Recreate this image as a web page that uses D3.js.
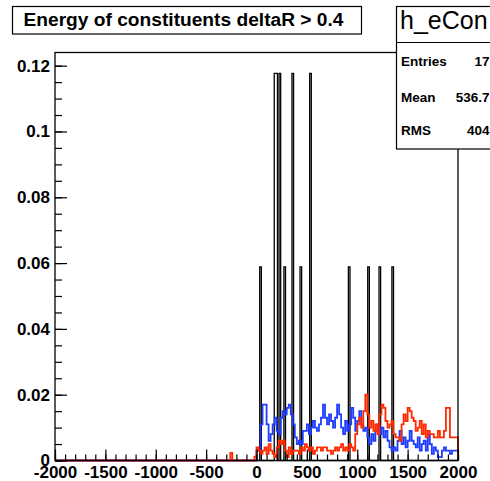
<!DOCTYPE html>
<html><head><meta charset="utf-8">
<script src="https://cdn.jsdelivr.net/npm/d3@7"></script>
<style>
body{margin:0;background:#fff;}
svg{display:block;font-family:"Liberation Sans",Arial,Helvetica,sans-serif;}
</style></head>
<body><svg id="c" width="490" height="481"></svg>
<script>
// ---- data ----
const titleText = "Energy of constituents deltaR > 0.4";
const statsName = "h_eCon";
const statsLabels = ["Entries", "Mean", "RMS"];
const statsValues = ["17", "536.7", "404"];
const xTickValues = [-2000, -1500, -1000, -500, 0, 500, 1000, 1500, 2000];
const xTickLabels = ["-2000", "-1500", "-1000", "-500", "0", "500", "1000", "1500", "2000"];
const yTickValues = [0, 0.02, 0.04, 0.06, 0.08, 0.1, 0.12];
const yTickLabels = ["0", "0.02", "0.04", "0.06", "0.08", "0.1", "0.12"];
// black histogram: filled bins (low edge) and counts, normalised by entries
const blackBinWidth = 16;
const blackBinLow = [32, 176, 192, 224, 272, 352, 432, 528, 912, 1104, 1216, 1344];
const blackCounts = [1, 2, 2, 2, 1, 2, 1, 2, 1, 1, 1, 1];
const blackEntries = 17;
// blue histogram: bins of width 20 starting at 0
const binWidth = 20;
const blueStart = 0;
const blueValues = [
 0.003,0.003,0.011,0.017,0.017,0.011,0.006,0.008,0.011,0.013,
 0.009,0.008,0.013,0.015,0.014,0.016,0.017,0.014,0.011,0.007,
 0.005,0.006,0.005,0.009,0.009,0.011,0.008,0.010,0.012,0.010,
 0.009,0.011,0.013,0.017,0.013,0.011,0.014,0.012,0.010,0.013,
 0.017,0.014,0.010,0.008,0.012,0.009,0.011,0.016,0.013,0.009,
 0.012,0.015,0.011,0.009,0.010,0.007,0.005,0.008,0.006,0.009,
 0.011,0.008,0.010,0.007,0.009,0.006,0.004,0.003,0.004,0.003,
 0.006,0.009,0.005,0.007,0.004,0.006,0.009,0.006,0.005,0.004,
 0.007,0.003,0.005,0.006,0.003,0.008,0.005,0.002,0.004,0.003,
 0.001,0.001,0.003,0.004,0.003,0.003,0.002,0.003,0.003,0.003];
// red histogram: bins of width 20 starting at -20
const redStart = -20;
const redValues = [0.0012,
 0.004,0.003,0.002,0.003,0.004,0.002,0.005,0.003,0.002,0.001,
 0.004,0.006,0.005,0.006,0.003,0.001,0.004,0.002,0.003,0.003,
 0.003,0.002,0.004,0.003,0.005,0.004,0.003,0.004,0.002,0.003,
 0.004,0.004,0.003,0.004,0.004,0.003,0.003,0.002,0.003,0.004,
 0.003,0.004,0.005,0.003,0.004,0.003,0.005,0.004,0.003,0.008,
 0.011,0.013,0.010,0.015,0.020,0.014,0.010,0.012,0.009,0.011,
 0.008,0.014,0.017,0.016,0.012,0.010,0.011,0.012,0.008,0.007,
 0.007,0.006,0.011,0.014,0.012,0.016,0.015,0.013,0.012,0.009,
 0.010,0.012,0.008,0.011,0.007,0.009,0.008,0.008,0.007,0.007,
 0.009,0.007,0.007,0.009,0.016,0.016,0.007,0.007,0.007,0.007];
const redExtraLow = [-260];
const redExtraValues = [0.0023];

// ---- chart ----
const svg = d3.select("#c");
const F = {l: 55, r: 458, t: 52.5, b: 460.5};
const x = d3.scaleLinear().domain([-2000, 2000]).range([F.l, F.r]);
const y = d3.scaleLinear().domain([0, 0.124]).range([F.b, F.t]);

function fullBins(pairs, w) {
  const n = Math.round(4000 / w);
  const vals = new Array(n).fill(0);
  pairs.forEach(([lo, v]) => { const i = Math.round((lo + 2000) / w); if (i >= 0 && i < n) vals[i] = v; });
  return vals.map((v, i) => [-2000 + i * w, v]);
}
function stepPath(bins, w) {
  const pts = [[-2000, 0]];
  bins.forEach(([lo, v]) => { pts.push([lo, v]); pts.push([lo + w, v]); });
  pts.push([2000, 0]);
  return d3.line().x(d => x(d[0])).y(d => y(d[1]))(pts);
}

const blackPairs = blackBinLow.map((lo, i) => [lo, blackCounts[i] / blackEntries]);
const bluePairs = blueValues.map((v, i) => [blueStart + i * binWidth, v]);
const redPairs = redValues.map((v, i) => [redStart + i * binWidth, v])
  .concat(redExtraLow.map((lo, i) => [lo, redExtraValues[i]]));

const plot = svg.append("g");
plot.append("path").attr("d", stepPath(fullBins(blackPairs, blackBinWidth), blackBinWidth))
  .attr("fill", "none").attr("stroke", "#000").attr("stroke-width", 1.3);
plot.append("path").attr("d", stepPath(fullBins(bluePairs, binWidth), binWidth))
  .attr("fill", "none").attr("stroke", "#1f3dff").attr("stroke-width", 1.8);
plot.append("path").attr("d", stepPath(fullBins(redPairs, binWidth), binWidth))
  .attr("fill", "none").attr("stroke", "#ff2a00").attr("stroke-width", 1.8);

// frame
svg.append("rect").attr("x", F.l).attr("y", F.t).attr("width", F.r - F.l).attr("height", F.b - F.t)
  .attr("fill", "none").attr("stroke", "#000").attr("stroke-width", 1.3);

// axes
const yMinor = d3.range(0, 0.1241, 0.005);
svg.append("g").attr("transform", `translate(${F.l},0)`)
  .call(d3.axisLeft(y).tickValues(yMinor).tickSize(-7).tickFormat(""))
  .call(g => g.select(".domain").remove());
svg.append("g").attr("transform", `translate(${F.l},0)`)
  .call(d3.axisLeft(y).tickValues(yTickValues).tickSize(-12).tickPadding(5)
    .tickFormat((d, i) => yTickLabels[i]))
  .call(g => g.select(".domain").remove())
  .call(g => g.selectAll("text").attr("font-size", 17).attr("font-weight", "bold")
    .attr("font-family", "Liberation Sans, Arial, sans-serif").attr("fill", "#000"));

const xMinor = d3.range(-2000, 2001, 100);
svg.append("g").attr("transform", `translate(0,${F.b})`)
  .call(d3.axisBottom(x).tickValues(xMinor).tickSize(-6).tickFormat(""))
  .call(g => g.select(".domain").remove());
svg.append("g").attr("transform", `translate(0,${F.b})`)
  .call(d3.axisBottom(x).tickValues(xTickValues).tickSize(-11).tickPadding(5)
    .tickFormat((d, i) => xTickLabels[i]))
  .call(g => g.select(".domain").remove())
  .call(g => g.selectAll("text").attr("font-size", 17).attr("font-weight", "bold")
    .attr("font-family", "Liberation Sans, Arial, sans-serif").attr("fill", "#000"));
svg.selectAll(".tick line").attr("stroke", "#000").attr("stroke-width", 1.2);

// title box
svg.append("rect").attr("x", 12.5).attr("y", 6.5).attr("width", 349).attr("height", 27.5)
  .attr("fill", "#fff").attr("stroke", "#000").attr("stroke-width", 1.2);
svg.append("text").attr("x", 23.5).attr("y", 25.5)
  .attr("font-size", 17.5).attr("font-weight", "bold")
  .attr("textLength", 320).attr("lengthAdjust", "spacingAndGlyphs").text(titleText);

// stats box
svg.append("rect").attr("x", 396.5).attr("y", 6.5).attr("width", 130).attr("height", 142.5)
  .attr("fill", "#fff").attr("stroke", "#000").attr("stroke-width", 1.2);
svg.append("line").attr("x1", 396.5).attr("x2", 490).attr("y1", 42.5).attr("y2", 42.5)
  .attr("stroke", "#000").attr("stroke-width", 1.2);
svg.append("text").attr("x", 400).attr("y", 29).attr("font-size", 25).text(statsName);
const statY = [65.5, 101.5, 135];
statsLabels.forEach((s, i) => {
  svg.append("text").attr("x", 401).attr("y", statY[i]).attr("font-size", 13.5)
    .attr("font-weight", "bold").text(s);
  svg.append("text").attr("x", 489.5).attr("y", statY[i]).attr("font-size", 13.5)
    .attr("font-weight", "bold").attr("text-anchor", "end").text(statsValues[i]);
});
</script></body></html>
